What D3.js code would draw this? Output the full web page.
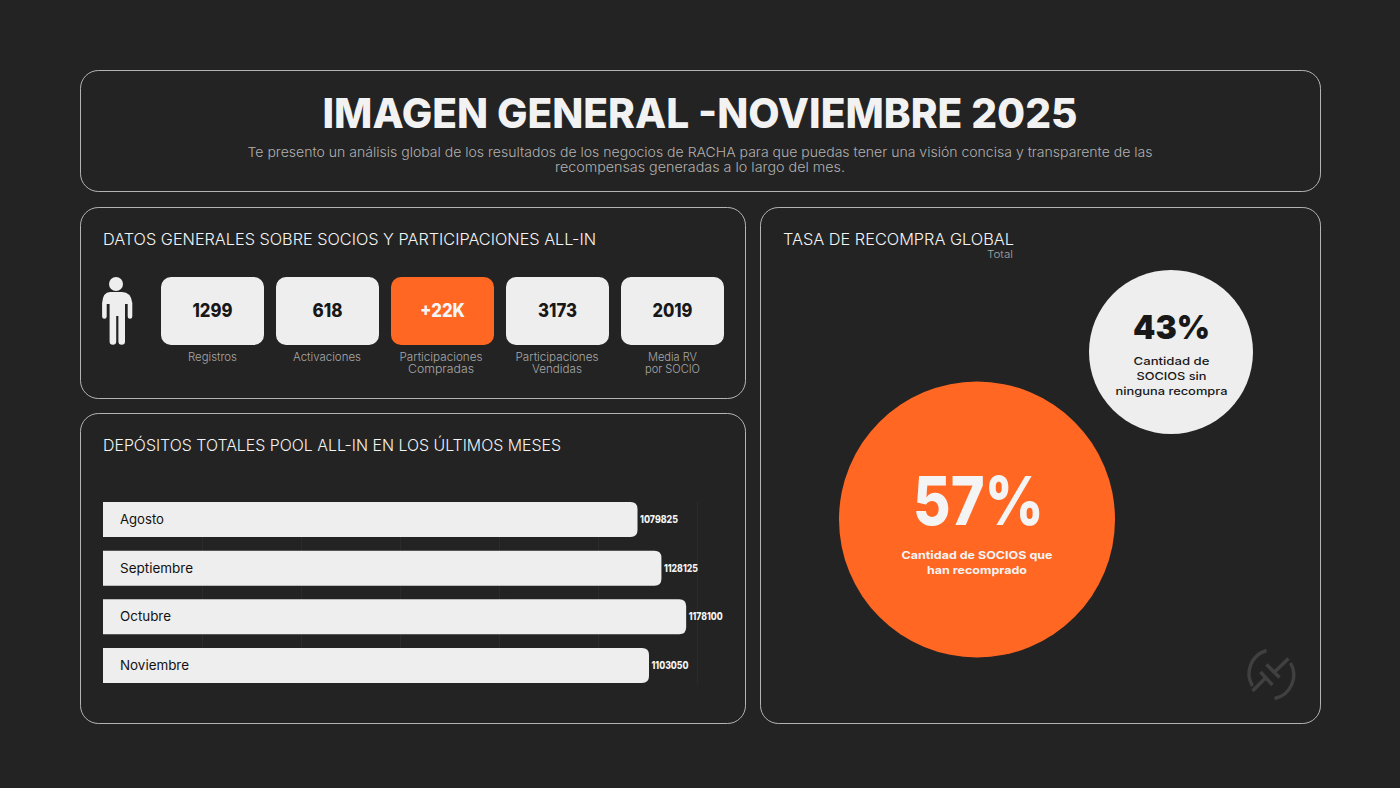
<!DOCTYPE html>
<html><head><meta charset="utf-8">
<script src="https://cdn.jsdelivr.net/npm/d3@7"></script>
<style>html,body{margin:0;padding:0;background:#232323;overflow:hidden}svg{display:block}text{font-family:Inter,"Open Sans",sans-serif}</style>
</head><body><svg id="c" width="1400" height="788"></svg>
<script>
const title = "IMAGEN GENERAL -NOVIEMBRE 2025";
const subtitleLines = ["Te presento un análisis global de los resultados de los negocios de RACHA para que puedas tener una visión concisa y transparente de las","recompensas generadas a lo largo del mes."];
const cardValues = ["1299","618","+22K","3173","2019"];
const cardLabels = [["Registros"],["Activaciones"],["Participaciones","Compradas"],["Participaciones","Vendidas"],["Media RV","por SOCIO"]];
const months = ["Agosto","Septiembre","Octubre","Noviembre"];
const deposits = [1079825,1128125,1178100,1103050];
const axisTicks = [0,200000,400000,600000,800000,1000000,1200000];
const bubbleValues = [57,43];
const bubbleLabels = [["Cantidad de SOCIOS que","han recomprado"],["Cantidad de","SOCIOS sin","ninguna recompra"]];

const BG="#232323", LIGHT="#eeeeee", ORANGE="#ff6723", DARK="#181818";
const svg=d3.select("#c");
svg.append("rect").attr("width",1400).attr("height",788).attr("fill",BG);

function txt(s,x,y,o){
  const t=svg.append("text").attr("x",x).attr("y",y).text(s)
    .attr("font-size",o.size).attr("font-weight",o.weight||400).attr("fill",o.fill)
    .attr("text-anchor",o.anchor||"start");
  if(o.w) t.attr("textLength",o.w).attr("lengthAdjust","spacingAndGlyphs");
  return t;
}
// panels
[[80.5,70.5,1240,121],[80.5,207.5,665,191],[80.5,413.5,665,310],[760.5,207.5,560,516]].forEach(p=>{
  svg.append("rect").attr("x",p[0]).attr("y",p[1]).attr("width",p[2]).attr("height",p[3]).attr("rx",18)
    .attr("fill",BG).attr("stroke","#d8d8d8").attr("stroke-width",0.8);
});
// header
txt(title,700,128,{size:41,weight:800,fill:"#f2f2f2",anchor:"middle",w:755});
txt(subtitleLines[0],700,157,{size:13.4,weight:300,fill:"#b0b0b0",anchor:"middle",w:905});
txt(subtitleLines[1],700,172,{size:13.4,weight:300,fill:"#b0b0b0",anchor:"middle",w:290});
// section titles
txt("DATOS GENERALES SOBRE SOCIOS Y PARTICIPACIONES ALL-IN",103,245,{size:16,weight:300,fill:"#f4f4f4",w:493});
txt("DEPÓSITOS TOTALES POOL ALL-IN EN LOS ÚLTIMOS MESES",103,451,{size:16,weight:300,fill:"#f4f4f4",w:458});
txt("TASA DE RECOMPRA GLOBAL",783,245,{size:16,weight:300,fill:"#f4f4f4",w:231});
txt("Total",1013,258,{size:10.5,weight:300,fill:"#a8a8a8",anchor:"end",w:26});

// person icon
svg.append("circle").attr("cx",116).attr("cy",284).attr("r",7).attr("fill",LIGHT);
svg.append("path").attr("fill",LIGHT).attr("d","M110 292H122Q131 292 132.3 303V316.5a2.3 2.3 0 0 1-4.6 0V304H126.4V304L125 304V341.5a3.3 3.3 0 0 1-6.6 0V316H116.2V341.5a3.3 3.3 0 0 1-6.6 0V304H106.7V316.5a2.3 2.3 0 0 1-4.6 0V303Q103 292 110 292Z");

// cards
const valueW=[40,30,45,39,40];
const labelW={"Registros":49,"Activaciones":68,"Participaciones":83,"Compradas":66,"Vendidas":50,"Media RV":49,"por SOCIO":55};
const labelC=[212.5,327,441,557,672.5];
cardValues.forEach((v,i)=>{
  const x=161+i*115, w=103, hi=v==="+22K";
  svg.append("rect").attr("x",x).attr("y",277).attr("width",w).attr("height",68).attr("rx",10)
    .attr("fill",hi?ORANGE:LIGHT);
  txt(v,x+w/2,316.5,{size:18.5,weight:800,fill:hi?"#f6f6f6":DARK,anchor:"middle",w:valueW[i]});
  cardLabels[i].forEach((l,j)=>txt(l,labelC[i],361+j*12,{size:11,weight:300,fill:"#a8a8a8",anchor:"middle",w:labelW[l]}));
});

// bar chart
const x=d3.scaleLinear().domain([0,1200000]).range([103,697]);
const y=d3.scaleBand().domain(months).range([497.1,687.9]).paddingInner(0.281).paddingOuter(0.1);
const g=svg.append("g");
g.selectAll("line.grid").data(axisTicks.slice(1)).join("line").attr("class","grid")
  .attr("x1",d=>x(d)+.5).attr("x2",d=>x(d)+.5).attr("y1",502).attr("y2",684)
  .attr("stroke","#2b2b2b").attr("stroke-width",1);
const barPath=(d,i)=>{
  const x0=x(0),x1=x(d),y0=y(months[i]),h=y.bandwidth(),r=7;
  return `M${x0} ${y0}H${x1-r}Q${x1} ${y0} ${x1} ${y0+r}V${y0+h-r}Q${x1} ${y0+h} ${x1-r} ${y0+h}H${x0}Z`;
};
g.selectAll("path.bar").data(deposits).join("path").attr("class","bar").attr("d",barPath).attr("fill",LIGHT);
const mW=[44,73,51,69], vW=[38,34,34,37];
months.forEach((m,i)=>{
  const cy=y(m)+y.bandwidth()/2;
  txt(m,120,cy+4.5,{size:13,weight:400,fill:"#111",w:mW[i]});
  txt(d3.format("d")(deposits[i]),x(deposits[i])+2.5,cy+3.5,{size:10,weight:800,fill:"#f4f4f4",w:vW[i]});
});

// bubbles
const r=d3.scaleLinear().domain([43,57]).range([82,138]);
const centers=[[977,519.5],[1171,352]];
svg.append("circle").attr("cx",centers[0][0]).attr("cy",centers[0][1]).attr("r",r(bubbleValues[0])).attr("fill",ORANGE);
svg.append("circle").attr("cx",centers[1][0]).attr("cy",centers[1][1]).attr("r",r(bubbleValues[1])).attr("fill",LIGHT);
txt(bubbleValues[0]+"%",978.5,525,{size:68,weight:800,fill:"#f4f4f4",anchor:"middle",w:131});
txt(bubbleLabels[0][0],977,559,{size:11,weight:700,fill:"#f4f4f4",anchor:"middle",w:151});
txt(bubbleLabels[0][1],977,574,{size:11,weight:700,fill:"#f4f4f4",anchor:"middle",w:100});
txt(bubbleValues[1]+"%",1171.5,339,{size:33,weight:900,fill:DARK,anchor:"middle",w:77});
const sW=[76,70,112];
bubbleLabels[1].forEach((l,j)=>txt(l,1171.5,365+j*15,{size:11,weight:500,fill:DARK,anchor:"middle",w:sW[j]}));

// logo
const lg=svg.append("g").attr("fill","none").attr("stroke","#404040").attr("stroke-width",3.4).attr("transform","translate(-1.5,0)");
lg.append("path").attr("d","M1268 650.5A24 24 0 0 0 1254 686");
lg.append("path").attr("d","M1292 663A24 24 0 0 1 1276 698.5");
lg.append("path").attr("d","M1254 691L1268 677M1262 672L1274 685M1290 658.5L1276 672M1268 664.5L1281 677.5");
</script></body></html>
